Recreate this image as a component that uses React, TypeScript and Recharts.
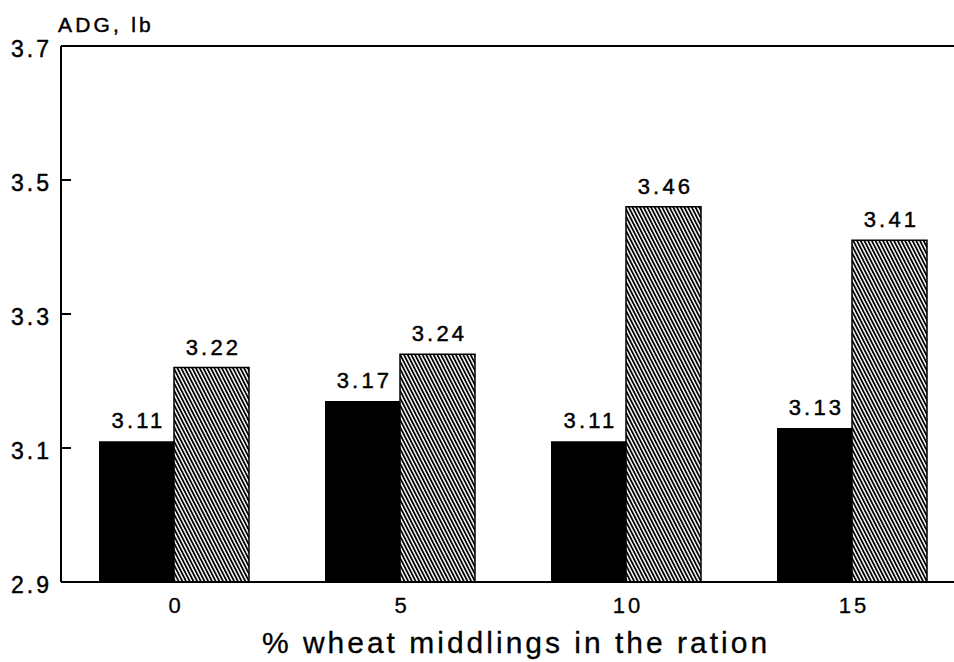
import React from 'react';
import { BarChart, Bar, XAxis, YAxis, ReferenceLine, LabelList } from 'recharts';

const categories = ['0', '5', '10', '15'];
const solidValues = [3.11, 3.17, 3.11, 3.13];
const hatchedValues = [3.22, 3.24, 3.46, 3.41];
const yTicks = [2.9, 3.1, 3.3, 3.5, 3.7];
const yTitle = 'ADG, lb';
const xTitle = '% wheat middlings in the ration';

const data = categories.map((c, i) => ({ cat: c, solid: solidValues[i], hatched: hatchedValues[i] }));

const FONT = '"Liberation Sans", Arial, Helvetica, sans-serif';
const heavy = { stroke: '#000', strokeWidth: 0.45 };
const medium = { stroke: '#000', strokeWidth: 0.3 };

const YTick = (props: any) => {
  const { x, y, payload } = props;
  const v = payload.value;
  const showLine = v !== 2.9 && v !== 3.7;
  return (
    <g>
      {showLine && <line x1={x} x2={x + 10} y1={y} y2={y} stroke="#000" strokeWidth={2} />}
      <text x={x - 9} y={y + 11} textAnchor="end" fontFamily={FONT} fontSize={23} letterSpacing={3} fill="#000" {...heavy}>
        {v.toFixed(1)}
      </text>
    </g>
  );
};

const XTick = (props: any) => {
  const { x, y, payload } = props;
  return (
    <text x={x + 2} y={y + 31} textAnchor="middle" fontFamily={FONT} fontSize={22} letterSpacing={3} fill="#000" {...medium}>
      {payload.value}
    </text>
  );
};

const ValueLabel = (props: any) => {
  const { x, y, width, value } = props;
  return (
    <text x={x + width / 2 + 2} y={y - 13} textAnchor="middle" fontFamily={FONT} fontSize={22} letterSpacing={3.2} fill="#000" {...heavy}>
      {Number(value).toFixed(2)}
    </text>
  );
};

const YTitle = () => {
  return (
    <text x={58} y={32} textAnchor="start" fontFamily={FONT} fontSize={21} letterSpacing={3.2} fill="#000" {...heavy}>
      {yTitle}
    </text>
  );
};

const XTitle = (props: any) => {
  const { viewBox } = props;
  const cx = viewBox.x + viewBox.width / 2;
  return (
    <text x={cx + 3} y={653} textAnchor="middle" fontFamily={FONT} fontSize={30} letterSpacing={3} fill="#000" {...medium}>
      {xTitle}
    </text>
  );
};

export default function App() {
  return (
    <div style={{ position: 'absolute', left: 0, top: 0, width: 954, height: 662, overflow: 'hidden', background: '#fff' }}>
      <BarChart
        width={970}
        height={662}
        data={data}
        margin={{ top: 46, right: 5, bottom: 0, left: 0 }}
        barGap={0}
        barSize={75}
      >
        <defs>
          <pattern id="hatch" patternUnits="userSpaceOnUse" width={3.3} height={10} patternTransform="rotate(-27)">
            <rect x={0} y={0} width={3.3} height={10} fill="#fff" />
            <rect x={0} y={0} width={1.8} height={10} fill="#000" />
          </pattern>
        </defs>
        <XAxis
          dataKey="cat"
          height={80}
          tickSize={0}
          tickMargin={0}
          tick={<XTick />}
          axisLine={{ stroke: '#000', strokeWidth: 2 }}
          tickLine={false}
          label={<XTitle />}
          interval={0}
        />
        <YAxis
          width={61}
          domain={[2.9, 3.7]}
          ticks={yTicks}
          type="number"
          tickSize={0}
          tickMargin={0}
          tick={<YTick />}
          tickLine={false}
          axisLine={{ stroke: '#000', strokeWidth: 2 }}
          label={<YTitle />}
          interval={0}
        />
        <ReferenceLine y={3.7} stroke="#000" strokeWidth={2} />
        <Bar dataKey="solid" fill="#000" isAnimationActive={false}>
          <LabelList dataKey="solid" content={<ValueLabel />} />
        </Bar>
        <Bar dataKey="hatched" fill="url(#hatch)" stroke="#000" strokeWidth={1.5} isAnimationActive={false}>
          <LabelList dataKey="hatched" content={<ValueLabel />} />
        </Bar>
      </BarChart>
    </div>
  );
}
